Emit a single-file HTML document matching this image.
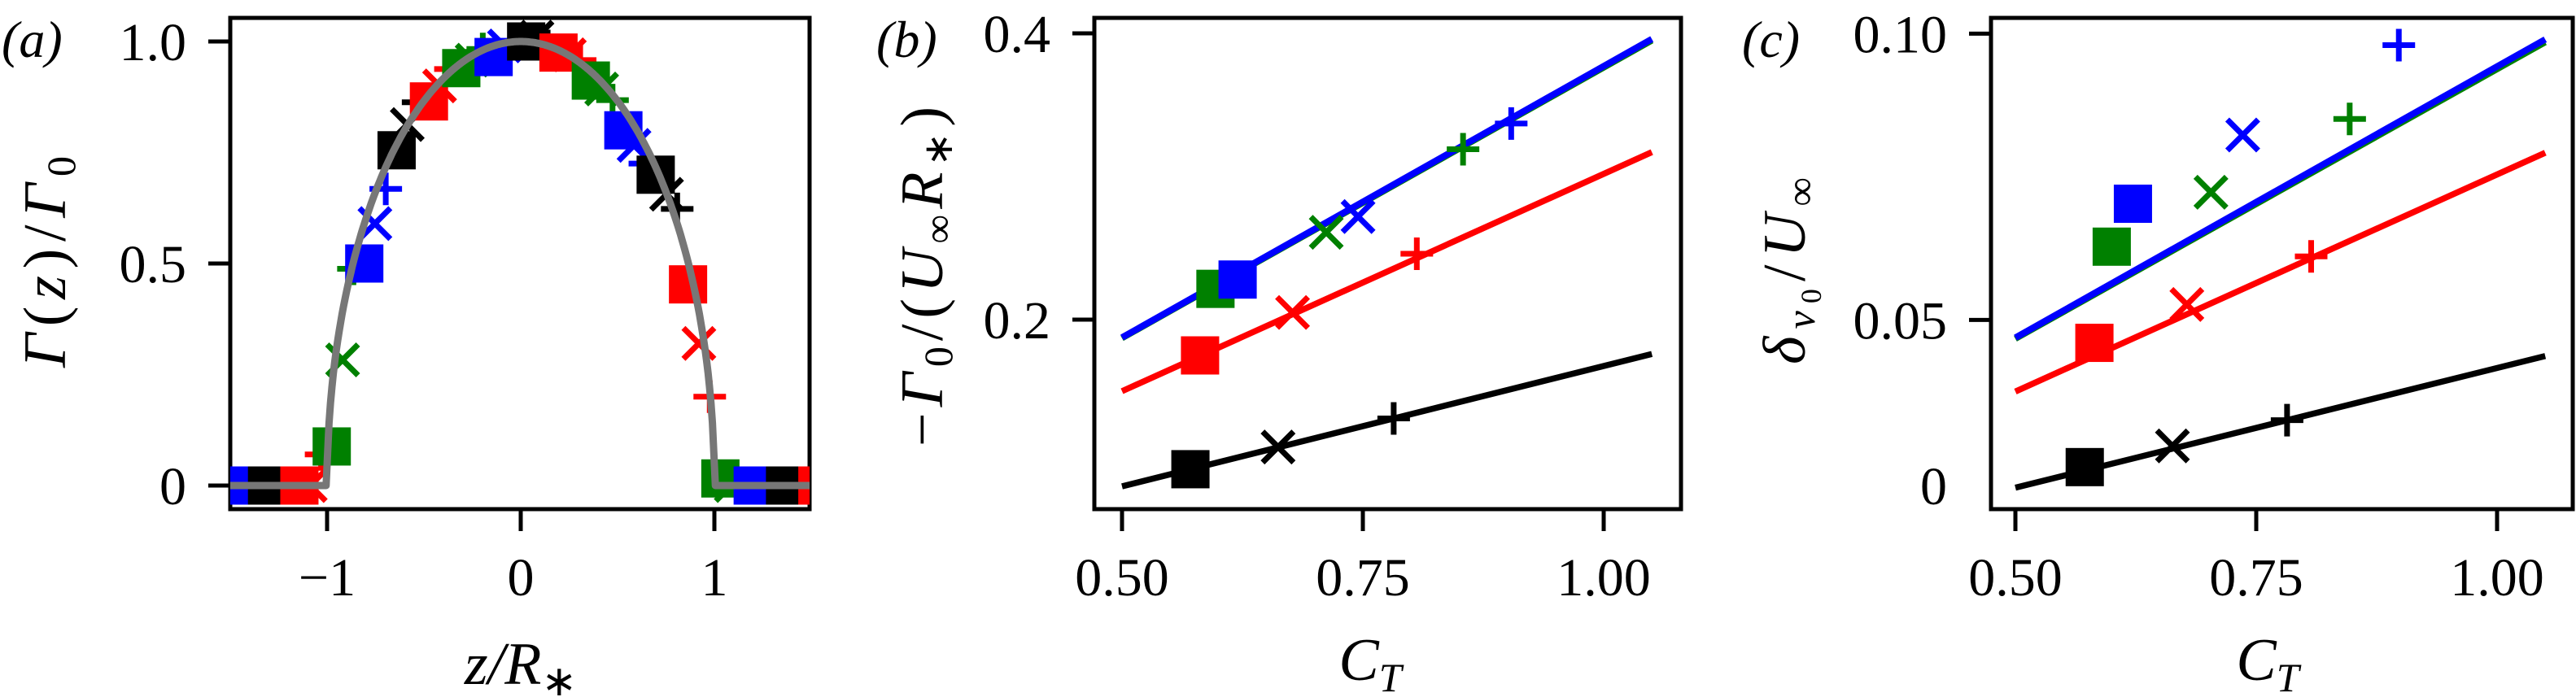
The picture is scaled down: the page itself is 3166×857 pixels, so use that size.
<!DOCTYPE html>
<html><head><meta charset="utf-8">
<style>
html,body{margin:0;padding:0;background:#fff;}
svg{display:block;font-family:"Liberation Serif",serif;}
text{font-family:"Liberation Serif",serif;}
</style></head>
<body>
<svg id="fig" width="3166" height="857" viewBox="0 0 3166 857" xmlns="http://www.w3.org/2000/svg">
<defs>
<clipPath id="clipA"><rect x="283" y="22" width="712" height="604"/></clipPath>
<clipPath id="clipB"><rect x="1345" y="22" width="721" height="604"/></clipPath>
<clipPath id="clipC"><rect x="2447" y="22" width="715" height="604"/></clipPath>
</defs>
<text x="2" y="70" font-size="64" font-style="italic">(a)</text>
<text x="1077" y="70" font-size="64" font-style="italic">(b)</text>
<text x="2141" y="70" font-size="64" font-style="italic">(c)</text>
<text transform="translate(80,322) rotate(-90)" text-anchor="middle" font-size="74" textLength="260" lengthAdjust="spacing"><tspan font-style="italic">Γ</tspan>(<tspan font-style="italic">z</tspan>)/<tspan font-style="italic">Γ</tspan><tspan font-size="50" dy="12">0</tspan></text>
<text x="640" y="841" text-anchor="middle" font-size="74" font-style="italic">z/R<tspan font-size="52" dy="14" font-style="normal">∗</tspan></text>
<text transform="translate(1158,340) rotate(-90)" text-anchor="middle" font-size="74" textLength="418" lengthAdjust="spacing">−<tspan font-style="italic">Γ</tspan><tspan font-size="50" dy="12">0</tspan><tspan dy="-12">/(</tspan><tspan font-style="italic">U</tspan><tspan font-size="50" dy="12">∞</tspan><tspan font-style="italic" dy="-12">R</tspan><tspan font-size="50" dy="12">∗</tspan><tspan dy="-12">)</tspan></text>
<text x="1684" y="836" text-anchor="middle" font-size="74" font-style="italic">C<tspan font-size="50" dy="14">T</tspan></text>
<text transform="translate(2218,333) rotate(-90)" text-anchor="middle" font-size="74" textLength="230" lengthAdjust="spacing"><tspan font-style="italic">δ</tspan><tspan font-size="50" dy="12" font-style="italic">v</tspan><tspan font-size="36" dy="8">0</tspan><tspan dy="-20">/</tspan><tspan font-style="italic">U</tspan><tspan font-size="50" dy="12">∞</tspan></text>
<text x="2787" y="836" text-anchor="middle" font-size="74" font-style="italic">C<tspan font-size="50" dy="14">T</tspan></text>
<g id="plots"></g>
</svg>
<script>
// ---------- Panel (a) data ----------
const aZ = [-1.477,-1.421,-1.365,-1.310,-1.254,-1.198,-1.143,-1.087,-1.031,-0.976,-0.920,-0.864,-0.808,-0.753,-0.697,-0.641,-0.586,-0.530,-0.474,-0.419,-0.363,-0.307,-0.251,-0.196,-0.140,-0.084,-0.028,0.028,0.084,0.139,0.195,0.251,0.307,0.362,0.418,0.474,0.530,0.585,0.641,0.697,0.753,0.808,0.864,0.920,0.976,1.031,1.087,1.143,1.198,1.254,1.310,1.365,1.421,1.477,1.532];
const aG = [0,0,0,0,0,0,0,0,0.07,0.088,0.283,0.488,0.50,0.59,0.668,0.755,0.813,0.863,0.865,0.90,0.938,0.94,0.958,0.983,0.965,0.99,1.0,1.0,1.01,0.99,0.975,0.97,0.958,0.912,0.893,0.868,0.80,0.766,0.725,0.70,0.656,0.623,0.453,0.32,0.20,0.016,0,0,0,0,0,0,0,0,0];
const aColor = ["blue","blue","blue","black","black","black","red","red","red","green","green","green","blue","blue","blue","black","black","black","red","red","red","green","green","green","blue","blue","blue","black","black","black","red","red","red","green","green","green","blue","blue","blue","black","black","black","red","red","red","green","green","green","blue","blue","blue","black","black","black","red"];
const aMarker = ["s","x","+","s","x","+","s","x","+","s","x","+","s","x","+","s","x","+","s","x","+","s","x","+","s","x","+","s","x","+","s","x","+","s","x","+","s","x","+","s","x","+","s","x","+","s","x","+","s","x","+","s","x","+","s"];
const aXTicks = [-1,0,1];
const aXTickLabels = ["−1","0","1"];
const aYTicks = [0,0.5,1.0];
const aYTickLabels = ["0","0.5","1.0"];

// ---------- Panel (b) data ----------
const seriesColors = ["black","red","green","blue"];
const bSqCT = [0.571,0.581,0.597,0.620];
const bSqY = [0.0955,0.175,0.2215,0.228];
const bXCT = [0.662,0.677,0.712,0.745];
const bXY = [0.111,0.205,0.261,0.272];
const bPlusCT = [0.782,0.806,0.854,0.904];
const bPlusY = [0.131,0.246,0.319,0.337];
const bLineY0 = [0.0835,0.150,0.187,0.1875];
const bLineY1 = [0.176,0.317,0.395,0.396];
const bXTicks = [0.5,0.75,1.0];
const bXTickLabels = ["0.50","0.75","1.00"];
const bYTicks = [0.2,0.4];
const bYTickLabels = ["0.2","0.4"];

// ---------- Panel (c) data ----------
const cSqCT = [0.572,0.582,0.600,0.622];
const cSqY = [0.0243,0.046,0.0628,0.0703];
const cXCT = [0.663,0.678,0.703,0.736];
const cXY = [0.028,0.0527,0.0723,0.0823];
const cPlusCT = [0.782,0.807,0.847,0.898];
const cPlusY = [0.0325,0.0611,0.0851,0.0980];
const cLineY0 = [0.0207,0.0375,0.0467,0.0469];
const cLineY1 = [0.0437,0.0792,0.0985,0.099];
const cXTicks = [0.5,0.75,1.0];
const cXTickLabels = ["0.50","0.75","1.00"];
const cYTicks = [0.05,0.10];
const cYTickLabels = ["0.05","0.10"];
const lineCT = [0.5,1.05];

const NS = "http://www.w3.org/2000/svg";
const root = document.getElementById("plots");
const colMap = {black:"#000000",red:"#ff0000",green:"#008000",blue:"#0000ff"};
function mk(tag, attrs, parent){
  const e = document.createElementNS(NS, tag);
  for (const k in attrs) e.setAttribute(k, attrs[k]);
  (parent||root).appendChild(e);
  return e;
}
const ax = {
  a:{x:v=>640+238*v, y:v=>597-546*v, box:[283,22,995,626], clip:"url(#clipA)"},
  b:{x:v=>1379+(v-0.5)*1184, y:v=>393-(v-0.2)*1760, box:[1345,22,2066,626], clip:"url(#clipB)"},
  c:{x:v=>2477+(v-0.5)*1184, y:v=>393.4-(v-0.05)*7040, box:[2447,22,3162,626], clip:"url(#clipC)"}
};
function marker(g, type, cx, cy, color, name){
  const c = colMap[color]||color;
  let e;
  if (type==="s"){
    e = mk("rect",{x:cx-23.5,y:cy-23.5,width:47,height:47,fill:c},g);
  } else if (type==="x"){
    e = mk("path",{d:`M${cx-19},${cy-19}L${cx+19},${cy+19}M${cx-19},${cy+19}L${cx+19},${cy-19}`,stroke:c,"stroke-width":7,fill:"none"},g);
  } else {
    e = mk("path",{d:`M${cx-20},${cy}L${cx+20},${cy}M${cx},${cy-20}L${cx},${cy+20}`,stroke:c,"stroke-width":7,fill:"none"},g);
  }
  
  
}
function axes(p, xt, xl, yt, yl, key){
  const A = ax[p];
  const [x0,y0,x1,y1] = A.box;
  const fr = mk("rect",{x:x0,y:y0,width:x1-x0,height:y1-y0,fill:"none",stroke:"#000","stroke-width":5});
  
  
  xt.forEach((v,i)=>{
    const px = A.x(v);
    const t = mk("line",{x1:px,x2:px,y1:y1,y2:y1+27,stroke:"#000","stroke-width":5});
    
    
    const l = mk("text",{x:px,y:732,"text-anchor":"middle","font-size":66});
    l.textContent = xl[i];
    
    
  });
  yt.forEach((v,i)=>{
    const py = A.y(v);
    const t = mk("line",{x1:x0-27,x2:x0,y1:py,y2:py,stroke:"#000","stroke-width":5});
    
    
    const l = mk("text",{x:x0-54,y:py+23,"text-anchor":"end","font-size":66});
    l.textContent = yl[i];
    
    
  });
}

axes("a", aXTicks, aXTickLabels, aYTicks, aYTickLabels, "a");
const gA = mk("g",{"clip-path":ax.a.clip});


aZ.forEach((z,i)=>{
  marker(gA, aMarker[i], ax.a.x(z), ax.a.y(aG[i]), aColor[i], 'point-a-'+aColor[i]);
});
let d = "";
const N = 400;
for (let k=0;k<=N;k++){
  const z = -1.5 + 3*k/N;
  const g = Math.abs(z)<1 ? Math.sqrt(1-z*z) : 0;
  d += (k?"L":"M")+ax.a.x(z).toFixed(1)+","+ax.a.y(g).toFixed(1);
}
const curve = mk("path",{d:d,stroke:"#777777","stroke-width":9,fill:"none","stroke-linejoin":"round"},gA);



function panel(p, sqCT, sqY, xCT, xY, plCT, plY, ly0, ly1){
  const A = ax[p];
  const g = mk("g",{"clip-path":A.clip});
  
  
  [2,3,1,0].forEach(i=>{
    const ln = mk("line",{x1:A.x(lineCT[0]),y1:A.y(ly0[i]),x2:A.x(lineCT[1]),y2:A.y(ly1[i]),stroke:colMap[seriesColors[i]],"stroke-width":i==3?8:7.5,"stroke-linecap":"butt"},g);
    
    
  });
  for (let i=0;i<4;i++){
    marker(g,"s",A.x(sqCT[i]),A.y(sqY[i]),seriesColors[i],'square-'+p+'-'+seriesColors[i]);
    marker(g,"x",A.x(xCT[i]),A.y(xY[i]),seriesColors[i],'cross-'+p+'-'+seriesColors[i]);
    marker(g,"+",A.x(plCT[i]),A.y(plY[i]),seriesColors[i],'plus-'+p+'-'+seriesColors[i]);
  }
}
axes("b", bXTicks, bXTickLabels, bYTicks, bYTickLabels, "b");
panel("b", bSqCT,bSqY,bXCT,bXY,bPlusCT,bPlusY,bLineY0,bLineY1);
axes("c", cXTicks, cXTickLabels, cYTicks, cYTickLabels, "c");
panel("c", cSqCT,cSqY,cXCT,cXY,cPlusCT,cPlusY,cLineY0,cLineY1);
const zeroLbl = mk("text",{x:2393,y:620,"text-anchor":"end","font-size":66});
zeroLbl.textContent = "0";


</script>
</body></html>
